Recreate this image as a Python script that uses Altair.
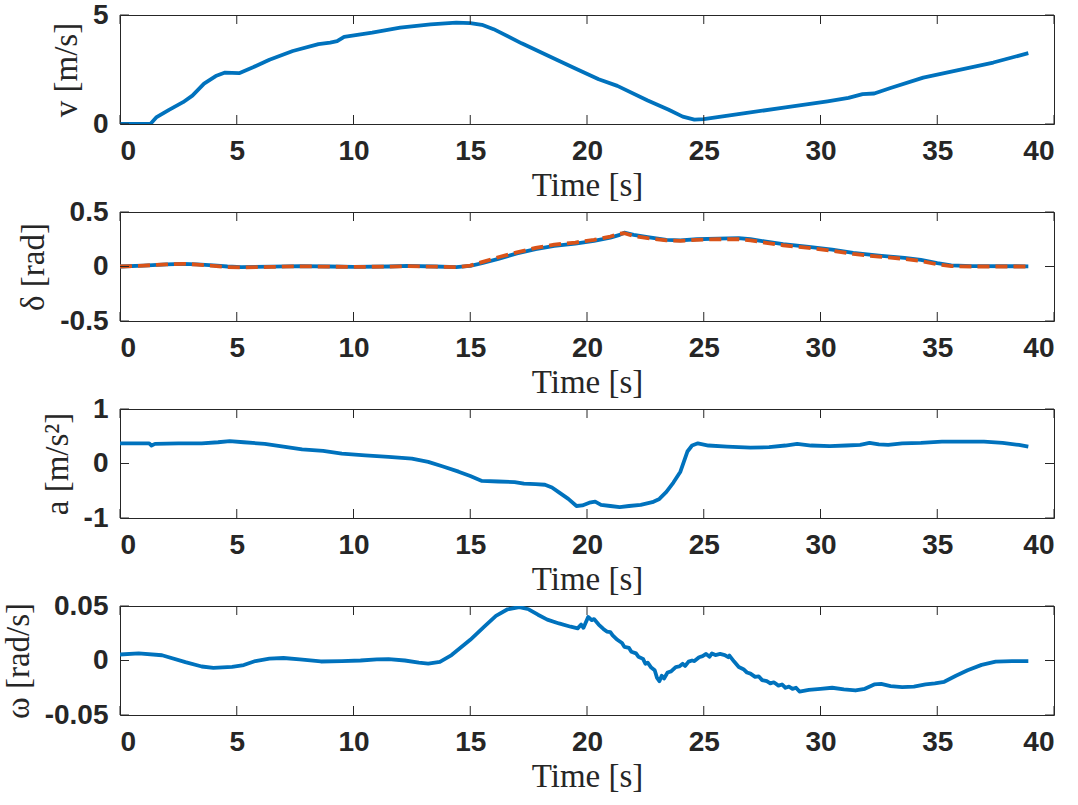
import altair as alt
import pandas as pd

BLUE = "#0072BD"
ORANGE = "#D95319"
AX = "#262626"

# ---------------- data ----------------
X_TICKS = [0, 5, 10, 15, 20, 25, 30, 35, 40]

v_t = [0, 1.3, 1.55, 2.1, 2.7, 3.1, 3.6, 4.1, 4.5, 5.1, 5.7, 6.4, 7.4, 8.5, 9.0, 9.3, 9.6,
       10.8, 12.0, 13.3, 14.4, 15.0, 15.5, 16.0, 17.2, 18.7, 19.5, 20.5, 21.3, 22.6, 23.5,
       24.1, 24.6, 25.0, 26.7, 28.5, 30.3, 31.2, 31.8, 32.3, 33.0, 34.4, 35.9, 37.4, 38.2, 38.9]
v_val = [0, 0, 0.3, 0.65, 1.0, 1.3, 1.85, 2.2, 2.36, 2.33, 2.6, 2.95, 3.35, 3.66, 3.73, 3.8, 4.0,
         4.19, 4.42, 4.57, 4.65, 4.63, 4.55, 4.35, 3.7, 2.95, 2.55, 2.05, 1.75, 1.08, 0.65,
         0.34, 0.2, 0.22, 0.49, 0.76, 1.04, 1.2, 1.37, 1.4, 1.65, 2.13, 2.47, 2.82, 3.05, 3.25]

d_t = [0, 1.0, 2.0, 2.7, 3.3, 4.0, 4.6, 5.2, 6.5, 7.7, 9.0, 10.0, 11.5, 12.3, 13.5, 14.4, 15.0,
       15.5, 16.2, 17.0, 17.8, 18.6, 19.5, 20.3, 21.0, 21.4, 21.6, 22.0, 22.6, 23.4, 24.0, 24.7,
       25.6, 26.5, 27.0, 27.6, 28.4, 29.5, 30.5, 31.4, 32.5, 33.6, 34.3, 35.0, 35.6, 36.5, 38.9]
d_actual = [0, 0.008, 0.02, 0.025, 0.02, 0.01, 0.0, -0.005, -0.002, 0.003, 0.0, -0.003, 0.0,
            0.005, 0.0, -0.005, 0.005, 0.03, 0.07, 0.12, 0.16, 0.19, 0.21, 0.235, 0.265, 0.29,
            0.31, 0.29, 0.27, 0.245, 0.24, 0.25, 0.255, 0.26, 0.25, 0.23, 0.205, 0.18, 0.155,
            0.125, 0.10, 0.08, 0.06, 0.03, 0.01, 0.003, 0.002]
d_ref = [0, 0.008, 0.02, 0.025, 0.018, 0.005, -0.005, -0.008, -0.004, 0.002, -0.002, -0.004,
         -0.001, 0.003, -0.002, -0.006, 0.008, 0.04, 0.085, 0.13, 0.17, 0.2, 0.22, 0.245, 0.275,
         0.30, 0.305, 0.28, 0.26, 0.24, 0.235, 0.245, 0.25, 0.25, 0.24, 0.22, 0.195, 0.17, 0.145,
         0.115, 0.09, 0.07, 0.05, 0.02, 0.003, 0.0, 0.0]

a_t = [0, 1.25, 1.35, 1.5, 2.5, 3.5, 4.2, 4.7, 5.3, 6.2, 7.0, 7.8, 8.7, 9.5, 10.5, 11.5, 12.5,
       13.2, 13.8, 14.5, 15.0, 15.5, 16.2, 16.9, 17.3, 17.8, 18.2, 18.5, 18.8, 19.2, 19.55, 19.8,
       20.1, 20.35, 20.6, 21.0, 21.4, 21.8, 22.3, 22.8, 23.1, 23.4, 23.7, 24.0, 24.3, 24.5, 24.75,
       25.2, 26.0, 27.0, 27.8, 28.5, 29.0, 29.6, 30.4, 31.1, 31.7, 32.1, 32.5, 32.9, 33.5, 34.3,
       35.2, 36.0, 37.0, 37.8, 38.5, 38.9]
a_val = [0.37, 0.37, 0.33, 0.36, 0.37, 0.37, 0.39, 0.41, 0.39, 0.36, 0.31, 0.26, 0.23, 0.18, 0.15,
         0.12, 0.09, 0.03, -0.05, -0.15, -0.23, -0.32, -0.33, -0.34, -0.37, -0.38, -0.39, -0.44,
         -0.53, -0.65, -0.78, -0.77, -0.72, -0.70, -0.76, -0.78, -0.80, -0.78, -0.76, -0.71, -0.65,
         -0.52, -0.35, -0.15, 0.22, 0.33, 0.37, 0.33, 0.31, 0.29, 0.30, 0.33, 0.36, 0.33, 0.32,
         0.33, 0.34, 0.38, 0.35, 0.34, 0.37, 0.38, 0.40, 0.40, 0.40, 0.38, 0.34, 0.31]

w_t = [0, 0.8, 1.8, 2.8, 3.5, 4.0, 4.8, 5.3, 5.8, 6.4, 7.0, 7.7, 8.6, 9.5, 10.3, 11.0, 11.5, 12.2,
       12.8, 13.2, 13.7, 14.2, 15.0, 15.6, 16.1, 16.6, 17.1, 17.5, 17.9, 18.3, 18.8, 19.3, 19.6,
       19.75, 19.85, 20.05, 20.2, 20.3, 20.5, 20.7, 20.85, 21.0, 21.1, 21.3, 21.5, 21.6, 21.8,
       21.9, 22.1, 22.2, 22.4, 22.5, 22.6, 22.75, 22.9, 23.0, 23.1, 23.2, 23.3, 23.45, 23.6, 23.8,
       23.95, 24.1, 24.2, 24.35, 24.5, 24.6, 24.8, 24.95, 25.1, 25.25, 25.35, 25.5, 25.7, 25.9,
       26.05, 26.1, 26.3, 26.5, 26.7, 26.85, 27.0, 27.2, 27.35, 27.5, 27.7, 27.85, 28.0, 28.2,
       28.35, 28.5, 28.65, 28.8, 28.95, 29.1, 29.5, 30.0, 30.5, 31.0, 31.5, 31.9, 32.3, 32.6,
       33.0, 33.5, 34.0, 34.5, 34.9, 35.3, 35.8, 36.3, 36.9, 37.5, 38.2, 38.9]
w_val = [0.0055, 0.0065, 0.0048, -0.0015, -0.0055, -0.0068, -0.0058, -0.0042, -0.0005, 0.0018,
         0.0023, 0.001, -0.0009, -0.0005, 0.0, 0.001, 0.0013, 0.0, -0.002, -0.0028, -0.0012,
         0.005, 0.019, 0.031, 0.041, 0.047, 0.049, 0.047, 0.042, 0.0375, 0.034, 0.031, 0.0295,
         0.033, 0.030, 0.040, 0.037, 0.038, 0.033, 0.029, 0.0265, 0.026, 0.023, 0.019, 0.016,
         0.0125, 0.0115, 0.008, 0.0065, 0.0035, 0.0015, -0.003, -0.002, -0.0065, -0.009, -0.016,
         -0.019, -0.014, -0.0165, -0.011, -0.010, -0.006, -0.0055, -0.003, -0.005, -0.001, 0.000,
         -0.0005, 0.003, 0.004, 0.006, 0.0035, 0.0065, 0.005, 0.006, 0.005, 0.003, 0.0045, -0.001,
         -0.006, -0.008, -0.011, -0.012, -0.015, -0.0145, -0.018, -0.019, -0.021, -0.020, -0.023,
         -0.022, -0.025, -0.024, -0.026, -0.025, -0.0285, -0.027, -0.026, -0.025, -0.0265, -0.0275,
         -0.026, -0.022, -0.0215, -0.0235, -0.0245, -0.024, -0.022, -0.021, -0.0195, -0.014,
         -0.009, -0.004, -0.001, -0.0005, -0.0005]

# ---------------- layout ----------------
W = 934
H = 109
TICK = 9

x_scale = alt.Scale(domain=[0, 40], nice=False, zero=False)


def panel(series, ytitle, ydom, yticks):
    y_scale = alt.Scale(domain=ydom, nice=False, zero=False)
    x_axis = alt.Axis(values=X_TICKS, title="Time [s]")
    y_axis = alt.Axis(values=yticks, title=ytitle, labelExpr="'' + datum.value")
    X = lambda f: alt.X(f, scale=x_scale, axis=x_axis, title="Time [s]")
    Y = lambda f: alt.Y(f, scale=y_scale, axis=y_axis, title=ytitle)
    layers = []
    for df, color, dash in series:
        mk = dict(color=color, strokeWidth=3.8, clip=True, strokeCap="butt", strokeJoin="round")
        if dash:
            mk["strokeDash"] = dash
        layers.append(alt.Chart(df).mark_line(**mk).encode(x=X("t:Q"), y=Y("y:Q")))
    xt = pd.DataFrame({"t": X_TICKS})
    yt = pd.DataFrame({"y": yticks})
    rule = dict(color=AX, strokeWidth=1)
    layers.append(alt.Chart(xt).mark_rule(**rule).encode(
        x=X("t:Q"), y=alt.value(0), y2=alt.value(TICK)))
    layers.append(alt.Chart(xt).mark_rule(**rule).encode(
        x=X("t:Q"), y=alt.value(H - TICK), y2=alt.value(H)))
    layers.append(alt.Chart(yt).mark_rule(**rule).encode(
        y=Y("y:Q"), x=alt.value(0), x2=alt.value(TICK)))
    layers.append(alt.Chart(yt).mark_rule(**rule).encode(
        y=Y("y:Q"), x=alt.value(W - TICK), x2=alt.value(W)))
    return alt.layer(*layers).properties(width=W, height=H)


p1 = panel([(pd.DataFrame({"t": v_t, "y": v_val}), BLUE, None)], "v [m/s]", [0, 5], [0, 5])
p2 = panel([(pd.DataFrame({"t": d_t, "y": d_actual}), BLUE, None),
            (pd.DataFrame({"t": d_t, "y": d_ref}), ORANGE, [12, 6])],
           "δ [rad]", [-0.5, 0.5], [-0.5, 0, 0.5])
p3 = panel([(pd.DataFrame({"t": a_t, "y": a_val}), BLUE, None)], "a [m/s²]", [-1, 1], [-1, 0, 1])
p4 = panel([(pd.DataFrame({"t": w_t, "y": w_val}), BLUE, None)], "ω [rad/s]",
           [-0.05, 0.05], [-0.05, 0, 0.05])

chart = alt.vconcat(p1, p2, p3, p4, spacing=88, bounds="flush").properties(
    padding={"left": 1, "top": 0, "right": 5, "bottom": 2},
    background="white",
).configure_view(
    stroke=AX, strokeWidth=1
).configure_axis(
    grid=False,
    ticks=False,
    domain=False,
    labelFont="Liberation Sans",
    labelFontWeight="bold",
    labelFontSize=28,
    labelColor=AX,
    titleFont="Liberation Serif",
    titleFontWeight="normal",
    titleFontSize=33,
    titleColor=AX,
).configure_axisX(
    labelPadding=13,
    titlePadding=4,
).configure_axisY(
    labelPadding=12,
    titlePadding=9,
)

chart.save("out.html", embed_options={"renderer": "svg", "actions": False})
